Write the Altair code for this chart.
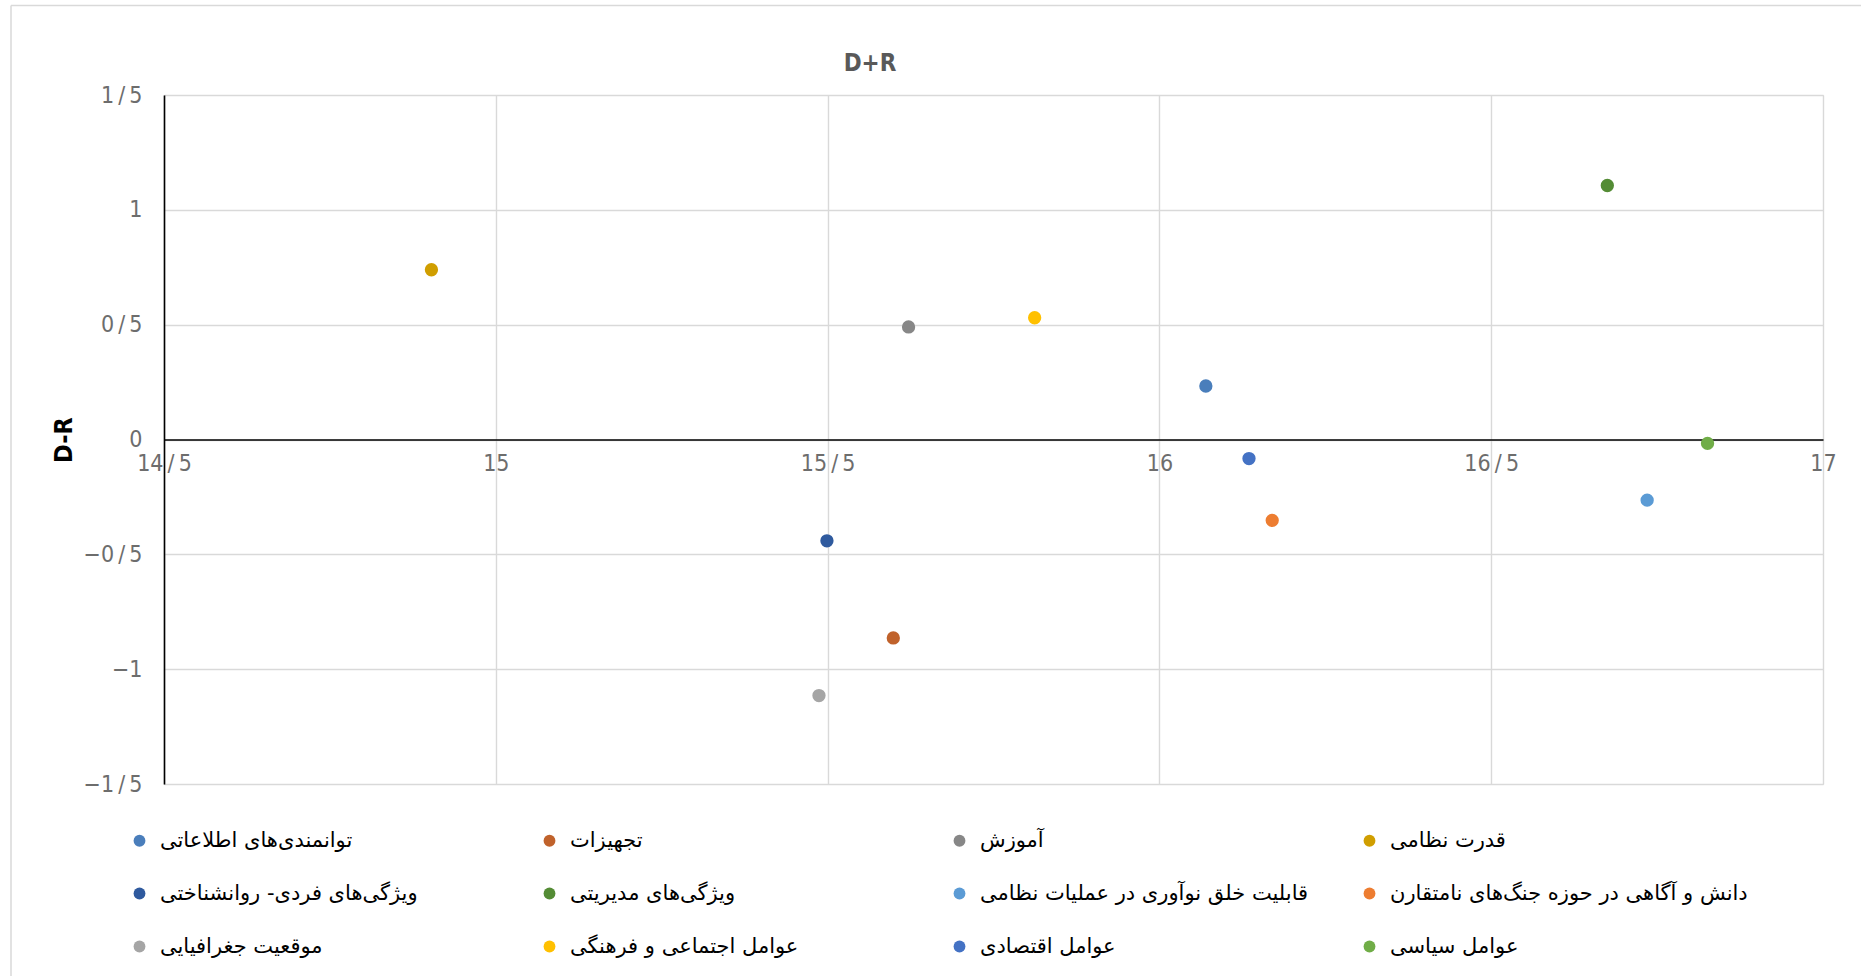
import altair as alt
import pandas as pd

# ---- data ----
names = [
    "توانمندی‌های اطلاعاتی",
    "تجهیزات",
    "آموزش",
    "قدرت نظامی",
    "ویژگی‌های فردی- روانشناختی",
    "ویژگی‌های مدیریتی",
    "قابلیت خلق نوآوری در عملیات نظامی",
    "دانش و آگاهی در حوزه جنگ‌های نامتقارن",
    "موقعیت جغرافیایی",
    "عوامل اجتماعی و فرهنگی",
    "عوامل اقتصادی",
    "عوامل سیاسی",
]
d_plus_r = [16.07, 15.599, 15.622, 14.903, 15.499, 16.675, 16.735, 16.17, 15.487, 15.812, 16.135, 16.826]
d_minus_r = [0.233, -0.864, 0.49, 0.739, -0.441, 1.106, -0.264, -0.352, -1.115, 0.530, -0.083, -0.017]
colors = ["#4A7EBB", "#C0622B", "#878787", "#D09E00", "#2F5A9E", "#548C35",
          "#5B9BD5", "#ED7D31", "#A5A5A5", "#FFC000", "#4472C4", "#70AD47"]
x_ticks = [14.5, 15, 15.5, 16, 16.5, 17]
y_ticks = [-1.5, -1, -0.5, 0, 0.5, 1, 1.5]
chart_title = "D+R"
y_title = "D-R"

df = pd.DataFrame({"name": names, "DR": d_plus_r, "DmR": d_minus_r})

W, H = 1659, 689
PAD_L, PAD_T = 164, 95

tick_font = "Liberation Sans Narrow, DejaVu Sans Condensed, sans-serif"
label_expr = "replace(format(datum.value, '~g'), '.', '\u2009/\u2009')"

points = alt.Chart(df).mark_circle(size=177, opacity=1).encode(
    x=alt.X("DR:Q",
            scale=alt.Scale(domain=[14.5, 17], nice=False, zero=False),
            axis=alt.Axis(title=None, values=x_ticks, offset=-H / 2,
                          ticks=False, domainColor="#000000", domainWidth=1.6,
                          gridColor="#d9d9d9", gridWidth=1.4,
                          labelColor="#6d6d6d", labelFont=tick_font, labelFontSize=23,
                          labelPadding=13, labelBaseline="top", labelAlign="center",
                          labelExpr=label_expr, labelOverlap=False, labelBound=False,
                          labelFlush=False)),
    y=alt.Y("DmR:Q",
            scale=alt.Scale(domain=[-1.5, 1.5], nice=False, zero=False),
            axis=alt.Axis(title=y_title, values=y_ticks, ticks=False,
                          domainColor="#000000", domainWidth=1.6,
                          gridColor="#d9d9d9", gridWidth=1.4,
                          labelColor="#6d6d6d", labelFont=tick_font, labelFontSize=23,
                          labelPadding=22, labelBaseline="middle", labelAlign="right",
                          labelExpr=label_expr, labelOverlap=False, labelFlush=False,
                          titleFont=tick_font, titleFontSize=25, titleFontWeight="bold",
                          titleColor="#000000", titleX=-101, titleY=H / 2,
                          titleBaseline="middle", titleAngle=270)),
    color=alt.Color("name:N", sort=names,
                    scale=alt.Scale(domain=names, range=colors),
                    legend=alt.Legend(title=None, orient="none", legendX=-35, legendY=735,
                                      columns=4, direction="horizontal",
                                      gridAlign="all", columnPadding=21, rowPadding=31,
                                      symbolType="circle", symbolSize=140,
                                      symbolStrokeWidth=0, labelFont="DejaVu Sans",
                                      labelFontSize=21, labelColor="#000000",
                                      labelOffset=10, labelLimit=600, padding=0)),
)

one = pd.DataFrame({"k": [0]})
top_border = alt.Chart(one).mark_rule(color="#d9d9d9", strokeWidth=1.5, clip=False).encode(
    x=alt.value(11 - PAD_L), x2=alt.value(1861 - PAD_L), y=alt.value(5.5 - PAD_T))
left_border = alt.Chart(one).mark_rule(color="#d9d9d9", strokeWidth=1.5, clip=False).encode(
    x=alt.value(11 - PAD_L), y=alt.value(5.5 - PAD_T), y2=alt.value(976 - PAD_T))
title_text = alt.Chart(one).mark_text(
    font=tick_font, fontSize=24, fontWeight="bold", color="#595959",
    align="center", baseline="alphabetic", clip=False).encode(
    x=alt.value(870 - PAD_L), y=alt.value(71 - PAD_T), text=alt.value(chart_title))

chart = alt.layer(top_border, left_border, title_text, points).properties(
    width=W, height=H,
    autosize=alt.AutoSizeParams(type="none"),
    padding={"left": PAD_L, "top": PAD_T, "right": 1861 - PAD_L - W, "bottom": 976 - PAD_T - H},
).configure_view(stroke=None).configure(background="#ffffff")

chart.save("out.html", embed_options={"renderer": "svg", "actions": False})
